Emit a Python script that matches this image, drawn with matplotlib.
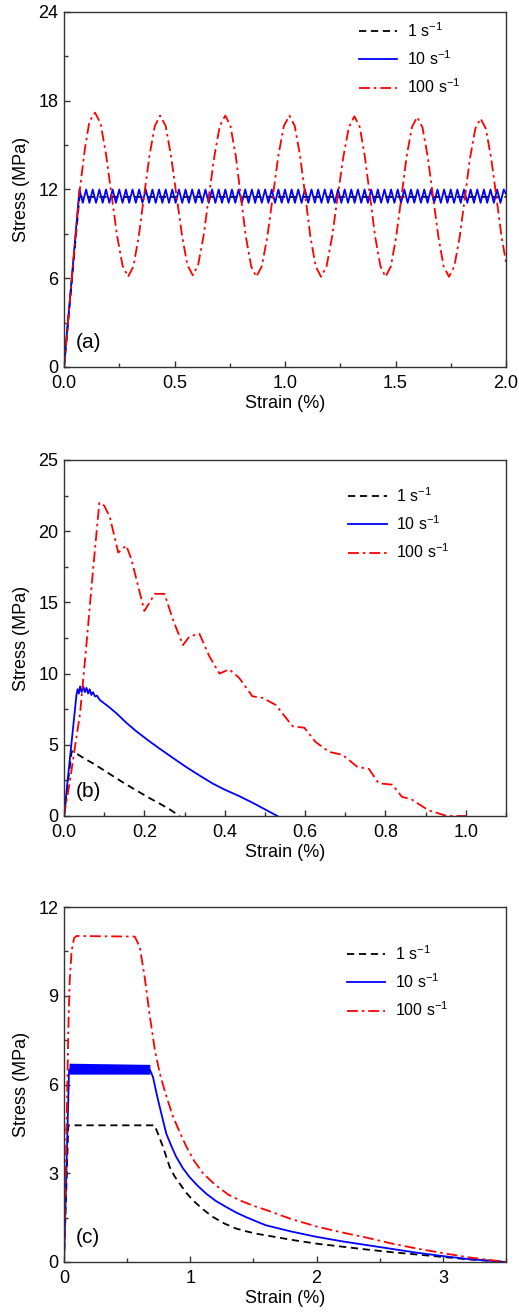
import matplotlib
matplotlib.use("Agg")
import matplotlib.pyplot as plt
from matplotlib.ticker import MultipleLocator

plt.rcParams["font.family"] = ["Liberation Sans", "DejaVu Sans"]
plt.rcParams["mathtext.default"] = "regular"

labels = ["1 s$^{-1}$", "10 s$^{-1}$", "100 s$^{-1}$"]

# ---- panel (a) ----
a_black_strain = [0.0, 0.07, 2.0]
a_black_stress = [0.0, 11.5, 11.5]

a_blue_strain = [
    0.000,
    0.070, 0.085, 0.100, 0.115, 0.130, 0.145, 0.160, 0.175, 0.190, 0.205,
    0.220, 0.235, 0.250, 0.265, 0.280, 0.295, 0.310, 0.325, 0.340, 0.355,
    0.370, 0.385, 0.400, 0.415, 0.430, 0.445, 0.460, 0.475, 0.490, 0.505,
    0.520, 0.535, 0.550, 0.565, 0.580, 0.595, 0.610, 0.625, 0.640, 0.655,
    0.670, 0.685, 0.700, 0.715, 0.730, 0.745, 0.760, 0.775, 0.790, 0.805,
    0.820, 0.835, 0.850, 0.865, 0.880, 0.895, 0.910, 0.925, 0.940, 0.955,
    0.970, 0.985, 1.000, 1.015, 1.030, 1.045, 1.060, 1.075, 1.090, 1.105,
    1.120, 1.135, 1.150, 1.165, 1.180, 1.195, 1.210, 1.225, 1.240, 1.255,
    1.270, 1.285, 1.300, 1.315, 1.330, 1.345, 1.360, 1.375, 1.390, 1.405,
    1.420, 1.435, 1.450, 1.465, 1.480, 1.495, 1.510, 1.525, 1.540, 1.555,
    1.570, 1.585, 1.600, 1.615, 1.630, 1.645, 1.660, 1.675, 1.690, 1.705,
    1.720, 1.735, 1.750, 1.765, 1.780, 1.795, 1.810, 1.825, 1.840, 1.855,
    1.870, 1.885, 1.900, 1.915, 1.930, 1.945, 1.960, 1.975, 1.990, 2.000,
]
a_blue_stress = [
    0.0,
    12.0, 11.1, 12.0, 11.1, 12.0, 11.1, 12.0, 11.1, 12.0, 11.1,
    12.0, 11.1, 12.0, 11.1, 12.0, 11.1, 12.0, 11.1, 12.0, 11.1,
    12.0, 11.1, 12.0, 11.1, 12.0, 11.1, 12.0, 11.1, 12.0, 11.1,
    12.0, 11.1, 12.0, 11.1, 12.0, 11.1, 12.0, 11.1, 12.0, 11.1,
    12.0, 11.1, 12.0, 11.1, 12.0, 11.1, 12.0, 11.1, 12.0, 11.1,
    12.0, 11.1, 12.0, 11.1, 12.0, 11.1, 12.0, 11.1, 12.0, 11.1,
    12.0, 11.1, 12.0, 11.1, 12.0, 11.1, 12.0, 11.1, 12.0, 11.1,
    12.0, 11.1, 12.0, 11.1, 12.0, 11.1, 12.0, 11.1, 12.0, 11.1,
    12.0, 11.1, 12.0, 11.1, 12.0, 11.1, 12.0, 11.1, 12.0, 11.1,
    12.0, 11.1, 12.0, 11.1, 12.0, 11.1, 12.0, 11.1, 12.0, 11.1,
    12.0, 11.1, 12.0, 11.1, 12.0, 11.1, 12.0, 11.1, 12.0, 11.1,
    12.0, 11.1, 12.0, 11.1, 12.0, 11.1, 12.0, 11.1, 12.0, 11.1,
    12.0, 11.1, 12.0, 11.1, 12.0, 11.1, 12.0, 11.1, 12.0, 11.7,
]

a_red_strain = [
    0.000, 0.070, 0.095, 0.115, 0.140,
    0.165, 0.190, 0.215, 0.240, 0.265, 0.290,
    0.314, 0.338, 0.362, 0.387, 0.411, 0.435,
    0.460, 0.484, 0.509, 0.534, 0.558, 0.583,
    0.607, 0.632, 0.656, 0.681, 0.705, 0.730,
    0.753, 0.777, 0.800, 0.823, 0.847, 0.870,
    0.895, 0.920, 0.945, 0.970, 0.995, 1.020,
    1.044, 1.068, 1.092, 1.115, 1.139, 1.163,
    1.188, 1.213, 1.238, 1.264, 1.289, 1.314,
    1.338, 1.361, 1.385, 1.408, 1.432, 1.455,
    1.479, 1.503, 1.527, 1.550, 1.574, 1.598,
    1.622, 1.646, 1.670, 1.694, 1.718, 1.742,
    1.766, 1.790, 1.814, 1.837, 1.861, 1.885,
    1.909, 1.933, 1.957, 1.980, 2.000,
]
a_red_stress = [
    0.0, 11.8, 14.8, 16.6, 17.2,
    16.5, 14.4, 11.65, 8.9, 6.85, 6.1,
    6.8, 8.8, 11.55, 14.3, 16.3, 17.0,
    16.3, 14.3, 11.6, 8.9, 6.9, 6.2,
    6.9, 8.9, 11.6, 14.3, 16.3, 17.0,
    16.3, 14.3, 11.55, 8.8, 6.8, 6.1,
    6.8, 8.8, 11.55, 14.3, 16.3, 17.0,
    16.3, 14.3, 11.55, 8.8, 6.8, 6.1,
    6.8, 8.8, 11.5, 14.2, 16.2, 16.95,
    16.25, 14.25, 11.5, 8.8, 6.8, 6.1,
    6.8, 8.8, 11.5, 14.2, 16.2, 16.9,
    16.2, 14.2, 11.5, 8.8, 6.8, 6.1,
    6.8, 8.75, 11.45, 14.1, 16.1, 16.8,
    16.1, 14.1, 11.45, 8.8, 7.1,
]

# ---- panel (b) ----
b_black_strain = [0.0, 0.019, 0.03, 0.05, 0.073, 0.10, 0.122, 0.15, 0.18, 0.21, 0.238, 0.26, 0.288]
b_black_stress = [0.0, 4.55, 4.4, 4.05, 3.68, 3.2, 2.8, 2.3, 1.8, 1.3, 0.87, 0.52, 0.0]

b_blue_strain = [0.0, 0.031, 0.034, 0.037, 0.040, 0.044, 0.048, 0.052, 0.056, 0.060,
                 0.064, 0.068, 0.072, 0.077, 0.082, 0.089, 0.11, 0.131, 0.155, 0.18,
                 0.21, 0.238, 0.27, 0.304, 0.337, 0.37, 0.40, 0.436, 0.47, 0.50, 0.531]
b_blue_stress = [0.0, 8.5, 8.9, 8.6, 9.1, 8.7, 9.1, 8.7, 9.0, 8.6,
                 8.9, 8.5, 8.7, 8.4, 8.45, 8.15, 7.7, 7.2, 6.55, 5.95,
                 5.3, 4.73, 4.1, 3.44, 2.85, 2.28, 1.85, 1.4, 0.92, 0.47, 0.0]

b_red_strain = [0.0, 0.015, 0.027, 0.040, 0.056, 0.073, 0.088, 0.10, 0.114, 0.135,
                0.155, 0.168, 0.20, 0.226, 0.25, 0.271, 0.296, 0.312, 0.337, 0.362,
                0.387, 0.411, 0.436, 0.469, 0.494, 0.527, 0.569, 0.598, 0.626, 0.66,
                0.693, 0.73, 0.759, 0.783, 0.817, 0.841, 0.866, 0.907, 0.953, 1.0]
b_red_stress = [0.0, 2.5, 4.8, 7.2, 12.1, 17.5, 22.0, 21.8, 21.0, 18.5,
                19.0, 18.0, 14.4, 15.6, 15.6, 13.8, 12.0, 12.6, 12.8, 11.2,
                10.0, 10.3, 9.7, 8.4, 8.3, 7.8, 6.3, 6.2, 5.2, 4.5,
                4.3, 3.45, 3.3, 2.3, 2.2, 1.35, 1.15, 0.4, 0.0, 0.0]

# ---- panel (c) ----
c_black_strain = [0.0, 0.034, 0.718, 0.75, 0.784, 0.837, 0.875, 0.916, 0.97, 1.02, 1.1, 1.18,
                  1.27, 1.363, 1.45, 1.52, 1.6, 1.8, 2.0, 2.2, 2.4, 2.6, 2.8, 3.0, 3.2, 3.5]
c_black_stress = [0.0, 4.62, 4.62, 4.27, 3.89, 3.21, 2.9, 2.65, 2.33, 2.09, 1.78, 1.52,
                  1.3, 1.13, 1.03, 0.96, 0.9, 0.75, 0.62, 0.52, 0.42, 0.33, 0.25, 0.17, 0.09, 0.0]

c_blue_band_strain = [0.04, 0.68]
c_blue_band_low = [6.35, 6.35]
c_blue_band_high = [6.72, 6.68]
c_blue_strain = [0.0, 0.04, 0.68, 0.705, 0.73, 0.758, 0.785, 0.81, 0.85, 0.889, 0.94, 0.994,
                 1.06, 1.126, 1.2, 1.284, 1.36, 1.44, 1.547, 1.6, 1.8, 2.0, 2.2, 2.4, 2.6,
                 2.8, 3.0, 3.2, 3.5]
c_blue_stress = [0.0, 6.5, 6.5, 6.25, 5.75, 5.24, 4.77, 4.34, 3.92, 3.55, 3.18, 2.87,
                 2.57, 2.31, 2.07, 1.86, 1.68, 1.52, 1.33, 1.24, 1.03, 0.85, 0.7, 0.57, 0.44,
                 0.31, 0.2, 0.1, 0.0]

c_red_strain = [0.0, 0.035, 0.045, 0.06, 0.08, 0.10, 0.56, 0.60, 0.64, 0.68, 0.72, 0.76,
                0.80, 0.86, 0.92, 0.97, 1.03, 1.1, 1.2, 1.3, 1.4, 1.5, 1.6, 1.8, 2.0,
                2.2, 2.4, 2.6, 2.8, 3.0, 3.2, 3.5]
c_red_stress = [0.0, 8.0, 9.5, 10.5, 10.95, 11.02, 11.0, 10.65, 9.6, 8.3, 7.15, 6.35,
                5.75, 4.95, 4.35, 3.89, 3.42, 3.0, 2.6, 2.28, 2.07, 1.9, 1.76, 1.45, 1.2,
                1.0, 0.82, 0.62, 0.45, 0.3, 0.16, 0.0]

fig = plt.figure(figsize=(5.19, 13.13), dpi=100)
left, width = 64 / 519, 442 / 519
ax_a = fig.add_axes([left, 1 - 367 / 1313, width, 355 / 1313])
ax_b = fig.add_axes([left, 1 - 816 / 1313, width, 356 / 1313])
ax_c = fig.add_axes([left, 1 - 1262 / 1313, width, 355 / 1313])

lw = 1.3
black_kw = dict(color="black", lw=lw, dashes=(4, 2.6))
blue_kw = dict(color="#0000ff", lw=lw)
red_kw = dict(color="#ff0000", lw=lw, dashes=(6, 2.2, 1.4, 2.2))

ax_a.plot(a_black_strain, a_black_stress, label=labels[0], **black_kw)
ax_a.plot(a_blue_strain, a_blue_stress, label=labels[1], **blue_kw)
ax_a.plot(a_red_strain, a_red_stress, label=labels[2], **red_kw)

ax_b.plot(b_black_strain, b_black_stress, label=labels[0], **black_kw)
ax_b.plot(b_blue_strain, b_blue_stress, label=labels[1], **blue_kw)
ax_b.plot(b_red_strain, b_red_stress, label=labels[2], **red_kw)

ax_c.plot(c_black_strain, c_black_stress, label=labels[0], **black_kw)
ax_c.fill_between(c_blue_band_strain, c_blue_band_low, c_blue_band_high, color="#0000ff", lw=0)
ax_c.plot(c_blue_strain, c_blue_stress, label=labels[1], **blue_kw)
ax_c.plot(c_red_strain, c_red_stress, label=labels[2], **red_kw)

setup = [
    (ax_a, (0, 2.0), 0.5, 0.25, (0, 24), 6, 3, "(a)", "{:.1f}", (0.667, 0.975)),
    (ax_b, (0, 1.1), 0.2, 0.1, (0, 25), 5, 2.5, "(b)", "{:.1f}", (0.643, 0.927)),
    (ax_c, (0, 3.5), 1, 0.5, (0, 12), 3, 1.5, "(c)", "{:.0f}", (0.640, 0.896)),
]
for ax, xlim, xmaj, xmin, ylim, ymaj, ymin, tag, fmt, legpos in setup:
    ax.set_xlim(*xlim)
    ax.set_ylim(*ylim)
    ax.xaxis.set_major_locator(MultipleLocator(xmaj))
    ax.xaxis.set_minor_locator(MultipleLocator(xmin))
    ax.yaxis.set_major_locator(MultipleLocator(ymaj))
    ax.yaxis.set_minor_locator(MultipleLocator(ymin))
    ax.xaxis.set_major_formatter(plt.FuncFormatter(lambda v, p, f=fmt: f.format(v)))
    ax.tick_params(which="both", direction="in", labelsize=13, colors="#333333",
                   labelcolor="black", width=1.0)
    ax.tick_params(which="major", length=4.5)
    ax.tick_params(which="minor", length=3)
    ax.tick_params(axis="x", which="major", pad=6)
    ax.tick_params(axis="y", which="major", pad=4)
    for s in ax.spines.values():
        s.set_color("#333333")
        s.set_linewidth(1.0)
    ax.set_xlabel("Strain (%)", fontsize=13, labelpad=2)
    ax.set_ylabel("Stress (MPa)", fontsize=13, labelpad=6)
    ax.text(0.027, 0.068, tag, transform=ax.transAxes, fontsize=15, va="center", ha="left")
    ax.legend(loc="upper left", bbox_to_anchor=legpos, frameon=False, fontsize=11.5,
              handlelength=2.4, handletextpad=0.6, labelspacing=0.6,
              borderpad=0, borderaxespad=0)

fig.savefig("out.png", dpi=100)
